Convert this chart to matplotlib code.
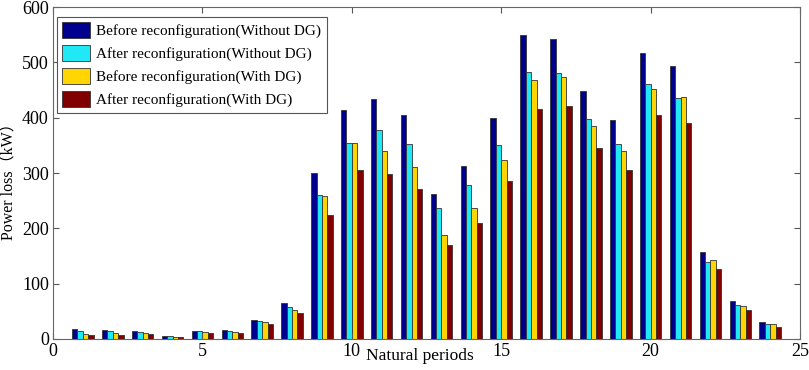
import matplotlib
matplotlib.use("Agg")
import matplotlib.pyplot as plt
import numpy as np

plt.rcParams['font.family'] = ['Liberation Serif', 'Noto Sans CJK SC']

# Natural periods 1..24
periods = np.arange(1, 25)

# Power loss (kW) for each case
before_no_dg = [18, 17, 14, 5, 15, 16, 35, 65, 300, 414, 433, 404,
                262, 312, 400, 550, 543, 449, 396, 517, 494, 158, 68, 30]
after_no_dg = [15, 15, 12, 5, 15, 15, 32, 58, 260, 355, 377, 352,
               236, 278, 350, 482, 480, 398, 353, 460, 435, 140, 61, 27]
before_dg = [9, 10, 10, 4, 12, 13, 31, 53, 258, 355, 340, 310,
             188, 237, 323, 469, 474, 385, 339, 451, 437, 143, 59, 27]
after_dg = [7, 8, 9, 4, 11, 11, 28, 47, 224, 306, 298, 272,
            170, 210, 286, 415, 421, 346, 305, 404, 390, 126, 52, 22]

labels = ['Before reconfiguration(Without DG)',
          'After reconfiguration(Without DG)',
          'Before reconfiguration(With DG)',
          'After reconfiguration(With DG)']
colors = ['#00008F', '#20E8F5', '#FFD500', '#800000']

fig = plt.figure(figsize=(8.09, 3.70), dpi=100)
ax = fig.add_axes([0.0655, 0.0838, 0.9235, 0.8972])

series = [before_no_dg, after_no_dg, before_dg, after_dg]
w = 0.18
offsets = [-1.5 * w, -0.5 * w, 0.5 * w, 1.5 * w]
for vals, off, c, lab in zip(series, offsets, colors, labels):
    ax.bar(periods + off, vals, width=w, color=c, edgecolor='#333333',
           linewidth=0.6, label=lab)

ax.set_xlim(0, 25)
ax.set_ylim(0, 600)
ax.set_xticks(range(0, 26, 5))
ax.set_yticks(range(0, 601, 100))
ax.tick_params(direction='in', top=True, right=True, labelsize=13,
               color='#555555', length=4, pad=3)
for s in ax.spines.values():
    s.set_color('#666666')
    s.set_linewidth(0.8)

ax.set_xlabel('Natural periods', fontsize=12.5, va='center')
ax.xaxis.set_label_coords(0.491, -0.05)
ax.set_ylabel('Power loss（kW）', fontsize=11.5, va='center')
ax.yaxis.set_label_coords(-0.058, 0.485)

leg = ax.legend(loc='upper left', bbox_to_anchor=(0.0054, 0.970),
                borderaxespad=0, fontsize=11, handlelength=1.83,
                handleheight=1.18, fancybox=False, framealpha=1,
                labelspacing=0.45, handletextpad=0.4, borderpad=0.35)
leg.get_frame().set_edgecolor('#555555')
leg.get_frame().set_linewidth(0.8)

fig.savefig('out.png', dpi=100)
